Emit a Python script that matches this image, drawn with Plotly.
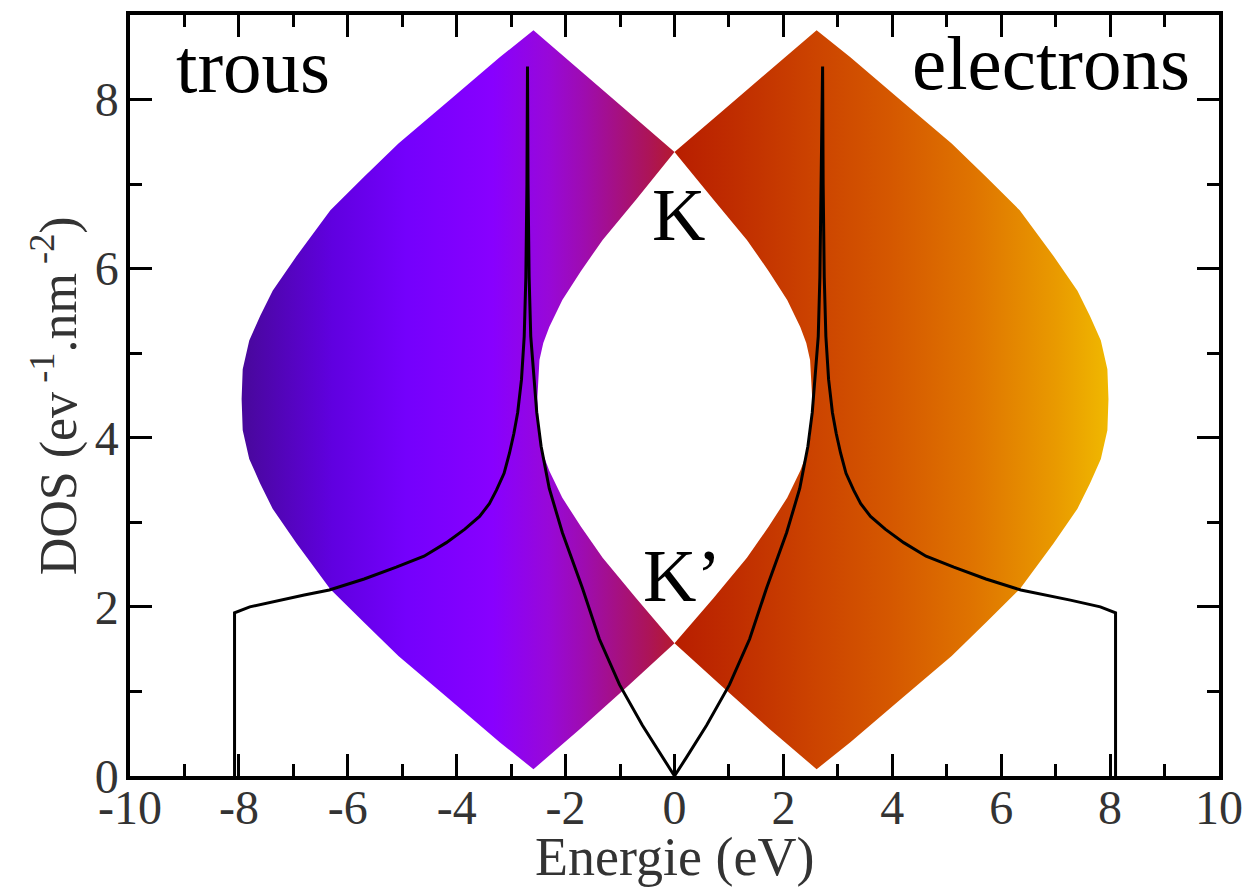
import plotly.graph_objects as go

# ---- DOS curve (Energie eV, DOS) ----
dos_E = [-8.08, -8.08, -7.80, -7.25, -6.80, -6.34, -5.70, -5.11, -4.60, -4.19, -3.85, -3.58,
         -3.40, -3.27, -3.13, -3.03, -2.95, -2.88, -2.81, -2.76, -2.73, -2.71, -2.70,
         -2.69, -2.67, -2.64, -2.58, -2.53, -2.45, -2.30, -2.06, -1.69, -1.38, -1.01, -0.59, -0.22,
         0.00,
         0.22, 0.59, 1.01, 1.38, 1.69, 2.06, 2.30, 2.45, 2.53, 2.58, 2.64, 2.67, 2.69, 2.72,
         2.73, 2.75, 2.78, 2.83, 2.90, 2.97, 3.05, 3.15, 3.29, 3.42, 3.60, 3.87, 4.21, 4.62,
         5.13, 5.72, 6.36, 6.82, 7.27, 7.82, 8.10, 8.10]
dos_D = [0.00, 1.93, 2.00, 2.08, 2.14, 2.20, 2.33, 2.47, 2.60, 2.76, 2.92, 3.07,
         3.22, 3.38, 3.58, 3.82, 4.05, 4.30, 4.69, 5.20, 5.90, 7.00, 8.39,
         7.00, 5.90, 5.20, 4.70, 4.30, 3.90, 3.40, 2.88, 2.22, 1.62, 1.08, 0.60, 0.22,
         0.00,
         0.22, 0.60, 1.08, 1.62, 2.22, 2.88, 3.40, 3.90, 4.30, 4.70, 5.20, 5.90, 7.00, 8.39,
         7.00, 5.90, 5.20, 4.69, 4.30, 4.05, 3.82, 3.58, 3.38, 3.22, 3.07, 2.92, 2.76, 2.60,
         2.47, 2.33, 2.20, 2.14, 2.08, 2.00, 1.93, 0.00]

# ---- band regions: outer edge (top -> bottom) then inner edge (bottom -> top) ----
trous_E = [-2.59, -3.21, -4.14, -5.07, -5.71, -6.32, -6.94, -7.38, -7.61, -7.81, -7.93, -7.95,
           -7.93, -7.81, -7.61, -7.38, -6.94, -6.32, -5.71, -5.07, -4.14, -3.21, -2.59,
           -1.73, -0.86, 0.00, -0.70, -1.32, -1.72, -2.06, -2.30, -2.41, -2.48, -2.52,
           -2.48, -2.41, -2.30, -2.06, -1.72, -1.32, -0.70, 0.00, -0.86, -1.73, -2.59]
trous_D = [8.82, 8.50, 7.99, 7.48, 7.08, 6.69, 6.15, 5.74, 5.44, 5.15, 4.81, 4.46,
           4.09, 3.75, 3.46, 3.16, 2.75, 2.21, 1.82, 1.42, 0.91, 0.40, 0.08,
           0.56, 1.06, 1.57, 2.10, 2.58, 2.95, 3.29, 3.61, 3.80, 4.00, 4.46,
           4.92, 5.12, 5.31, 5.63, 5.97, 6.34, 6.82, 7.38, 7.86, 8.34, 8.82]

elec_E = [2.61, 3.23, 4.16, 5.09, 5.73, 6.34, 6.96, 7.40, 7.63, 7.83, 7.95, 7.97,
          7.95, 7.83, 7.63, 7.40, 6.96, 6.34, 5.73, 5.09, 4.16, 3.23, 2.61,
          1.74, 0.87, 0.00, 0.71, 1.33, 1.73, 2.07, 2.31, 2.42, 2.49, 2.53,
          2.49, 2.42, 2.31, 2.07, 1.73, 1.33, 0.71, 0.00, 0.87, 1.74, 2.61]
elec_D = [8.82, 8.50, 7.99, 7.48, 7.08, 6.69, 6.15, 5.74, 5.44, 5.15, 4.81, 4.46,
          4.09, 3.75, 3.46, 3.16, 2.75, 2.21, 1.82, 1.42, 0.91, 0.40, 0.08,
          0.56, 1.06, 1.57, 2.10, 2.58, 2.95, 3.29, 3.61, 3.80, 4.00, 4.46,
          4.92, 5.12, 5.31, 5.63, 5.97, 6.34, 6.82, 7.38, 7.86, 8.34, 8.82]

trous_colors = [[0.00, "#48089a"], [0.21, "#6000e0"], [0.38, "#7400fc"], [0.58, "#8800ff"],
                [0.71, "#9808d8"], [0.79, "#9e0cb0"], [0.94, "#ac1458"], [1.00, "#b41a30"]]
elec_colors = [[0.00, "#b81e00"], [0.13, "#bf2c00"], [0.31, "#cb4200"], [0.50, "#d55800"],
               [0.69, "#df7400"], [0.88, "#e99a00"], [1.00, "#f0b800"]]

x_ticks = [-10, -8, -6, -4, -2, 0, 2, 4, 6, 8, 10]
x_ticktext = ["-10", "-8", "-6", "-4", "-2", "0", "2", "4", "6", "8", "10"]
y_ticks = [0, 2, 4, 6, 8]
y_ticktext = ["0", "2", "4", "6", "8"]

labels = ["trous", "electrons", "K", "K\u2019"]
label_E = [-9.2, 9.51, 0.07, 0.13]
label_D = [8.40, 8.43, 6.63, 2.37]
label_anchor = ["left", "right", "center", "center"]
label_size = [77, 77, 74, 74]

fig = go.Figure()
fig.add_trace(go.Scatter(x=trous_E, y=trous_D, mode="lines", fill="toself", line=dict(width=0),
                         fillgradient=dict(type="horizontal", colorscale=trous_colors,
                                           start=min(trous_E), stop=max(trous_E)),
                         showlegend=False, hoverinfo="skip"))
fig.add_trace(go.Scatter(x=elec_E, y=elec_D, mode="lines", fill="toself", line=dict(width=0),
                         fillgradient=dict(type="horizontal", colorscale=elec_colors,
                                           start=min(elec_E), stop=max(elec_E)),
                         showlegend=False, hoverinfo="skip"))
fig.add_trace(go.Scatter(x=dos_E, y=dos_D, mode="lines", line=dict(color="black", width=3),
                         showlegend=False))

serif = "Liberation Serif"
for t, xe, yd, a, s in zip(labels, label_E, label_D, label_anchor, label_size):
    fig.add_annotation(x=xe, y=yd, text=t, showarrow=False, xanchor=a, yanchor="middle",
                       font=dict(family=serif, size=s, color="black"))

# axis titles
fig.add_annotation(x=0, y=-0.107, xref="x", yref="paper", text="Energie (eV)", showarrow=False,
                   xanchor="center", yanchor="middle",
                   font=dict(family=serif, size=54, color="#333"))
fig.add_annotation(x=-0.069, y=0.5, xref="paper", yref="paper",
                   text="DOS (ev<sup> -1</sup>.nm<sup> -2</sup>)", showarrow=False,
                   textangle=-90, xanchor="center", yanchor="middle",
                   font=dict(family=serif, size=52, color="#333"))

axis_common = dict(showline=True, linecolor="black", linewidth=3.5, mirror="ticks",
                   ticks="inside", ticklen=22, tickwidth=3, tickcolor="black",
                   showgrid=False, zeroline=False, automargin=False,
                   tickfont=dict(family=serif, size=48, color="#333"),
                   minor=dict(ticks="inside", ticklen=12, tickwidth=3, tickcolor="black", dtick=1,
                              showgrid=False))

fig.update_xaxes(range=[-10, 10], tickvals=x_ticks, ticktext=x_ticktext,
                 ticklabelstandoff=-13, **axis_common)
fig.update_yaxes(range=[0, 9], tickvals=y_ticks, ticktext=y_ticktext,
                 ticklabelstandoff=-2, **axis_common)

fig.update_layout(width=1252, height=888, margin=dict(l=130, r=33, t=15, b=112),
                  paper_bgcolor="white", plot_bgcolor="white")

fig.write_html("out.html", config={"displayModeBar": False},
               post_script="document.body.style.margin='0';document.body.style.overflow='hidden';")
